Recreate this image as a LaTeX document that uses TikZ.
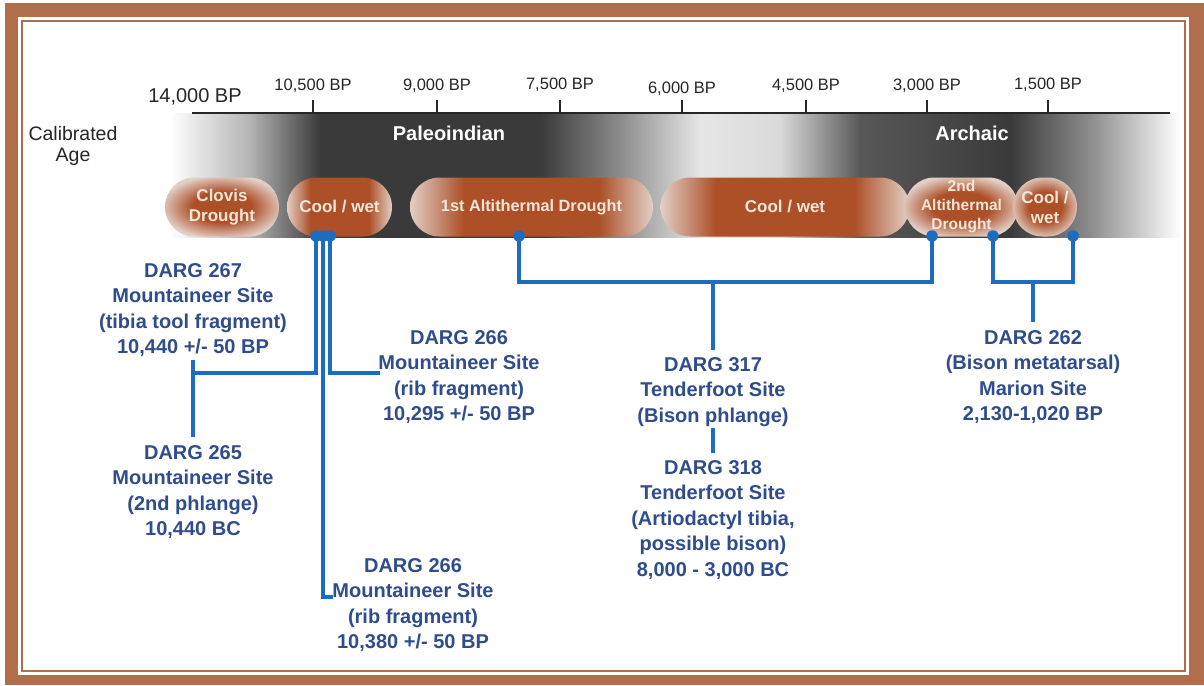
\documentclass[tikz,border=0pt]{standalone}
\usepackage{fontspec}
\setmainfont{Liberation Sans}
\usetikzlibrary{shapes.misc}
\definecolor{framebrown}{HTML}{B06E4C}
\definecolor{lineblue}{HTML}{1C6CC0}
\definecolor{txtblue}{HTML}{2F4D8C}
\definecolor{pillbrown}{HTML}{AD5028}
\definecolor{pillpale}{HTML}{E2CFC6}
\definecolor{pilltext}{HTML}{F4E7D8}
\definecolor{bandd}{HTML}{3A3A3A}
\definecolor{bandA}{HTML}{B4B4B4}
\definecolor{bandB}{HTML}{8C8C8C}
\definecolor{bandC}{HTML}{E6E6E6}
\definecolor{bandE}{HTML}{DADADA}
\definecolor{bandF}{HTML}{585858}
\pgfdeclarehorizontalshading{bandshade}{100bp}{color(0bp)=(white); color(25bp)=(white); color(28.96bp)=(bandA); color(32.43bp)=(bandd); color(43.32bp)=(bandd); color(47.28bp)=(bandB); color(51.24bp)=(bandC); color(55.2bp)=(bandE); color(59.16bp)=(bandF); color(66.58bp)=(bandd); color(70.54bp)=(bandB); color(75bp)=(white); color(100bp)=(white)}
\pgfdeclarehorizontalshading{pillshade}{100bp}{color(0bp)=(pillpale); color(25bp)=(pillpale); color(36bp)=(pillbrown); color(64bp)=(pillbrown); color(75bp)=(pillpale); color(100bp)=(pillpale)}
\pgfdeclareradialshading{pillrad}{\pgfpoint{0bp}{0bp}}{color(0bp)=(pillbrown); color(13bp)=(pillbrown); color(27bp)=(pillpale); color(50bp)=(pillpale)}
\begin{document}
\begin{tikzpicture}[x=1pt,y=-1pt,
  conn/.style={draw=lineblue, line width=3.4pt},
  dot/.style={circle, fill=lineblue, inner sep=0pt, minimum size=11.5pt},
  info/.style={text=txtblue, font=\fontsize{20}{25.5}\selectfont\bfseries, align=center, inner sep=0pt, anchor=north},
  axtick/.style={draw=black!85, line width=1.8pt},
  ticklabel/.style={font=\fontsize{16.5}{18}\selectfont, anchor=base, text=black!85, inner sep=0pt},
  pill/.style={rounded rectangle, minimum height=59pt, inner sep=0pt, text=pilltext, align=center, font=\fontsize{17}{20}\selectfont\bfseries},
  longpill/.style={pill, shade, shading=pillshade},
  shortpill/.style={pill, shade, shading=pillrad},
  eralabel/.style={text=white, font=\fontsize{20}{22}\selectfont\bfseries, anchor=base, inner sep=0pt}
]
\useasboundingbox (0,0) rectangle (1204,685);
% frame
\fill[white] (0,0) rectangle (1204,685);
\fill[framebrown] (5,3) rectangle (1204,685);
\fill[white] (18,17) rectangle (1189,675);
\draw[framebrown, line width=2.5pt] (22,21) rectangle (1185,671);

% band
\shade[shading=bandshade] (170,113) rectangle (1180,237);

% axis
\coordinate (axL) at (192,113);
\coordinate (axR) at (1170,113);
\draw[axtick] (axL) -- (axR);
\foreach \x/\yl/\lab in {313/90/{10,500 BP}, 437/90/{9,000 BP}, 560/89/{7,500 BP}, 682/93/{6,000 BP}, 806/90/{4,500 BP}, 927/90/{3,000 BP}, 1048/89/{1,500 BP}}{
  \draw[axtick] (\x,113) -- (\x,100);
  \node[ticklabel] at (\x,\yl) {\lab};
}
\node[ticklabel, font=\fontsize{20}{22}\selectfont] (t14) at (195,102) {14,000 BP};
\node[text=black!85, font=\fontsize{19.5}{21}\selectfont, align=center, anchor=north, inner sep=0pt] (calage) at (73,126) {Calibrated\\Age};

% era labels
\node[eralabel] (paleo) at (449,140) {Paleoindian};
\node[eralabel] (archaic) at (972,140) {Archaic};

% pills
\node[shortpill, minimum width=114pt] (p1) at (222,207) {Clovis\\Drought};
\node[longpill, minimum width=105pt] (p2) at (339.5,207) {Cool / wet};
\node[longpill, minimum width=243pt, font=\fontsize{16.3}{18}\selectfont\bfseries] (p3) at (531.5,207) {1st Altithermal Drought};
\node[longpill, minimum width=249pt] (p4) at (785,207) {Cool / wet};
\node[shortpill, minimum width=103pt, font=\fontsize{15.5}{19}\selectfont\bfseries] (p5) at (961.5,207) {2nd\\Altithermal\\Drought};
\node[shortpill, minimum width=64pt] (p6) at (1045,207) {Cool /\\wet};

% dots
\node[dot] (a1) at (316,236) {};
\node[dot] (a2) at (323,236) {};
\node[dot] (a3) at (330,236) {};
\node[dot] (b1) at (519,236) {};
\node[dot] (b2) at (932,236) {};
\node[dot] (b3) at (993,236) {};
\node[dot] (b4) at (1073,236) {};

% text blocks
\node[info] (t267) at (193,263) {DARG 267\\Mountaineer Site\\(tibia tool fragment)\\10,440 +/- 50 BP};
\node[info] (t265) at (193,445) {DARG 265\\Mountaineer Site\\(2nd phlange)\\10,440 BC};
\node[info] (t266a) at (459,330) {DARG 266\\Mountaineer Site\\(rib fragment)\\10,295 +/- 50 BP};
\node[info] (t266b) at (413,558) {DARG 266\\Mountaineer Site\\(rib fragment)\\10,380 +/- 50 BP};
\node[info] (t317) at (713,357) {DARG 317\\Tenderfoot Site\\(Bison phlange)};
\node[info] (t318) at (713,460) {DARG 318\\Tenderfoot Site\\(Artiodactyl tibia,\\possible bison)\\8,000 - 3,000 BC};
\node[info] (t262) at (1033,330) {DARG 262\\(Bison metatarsal)\\Marion Site\\2,130-1,020 BP};

% connectors
\coordinate (j267) at (193,373);
\coordinate (c267) at (193,360);
\coordinate (c265) at (193,437);
\coordinate (e266a) at (380,373);
\coordinate (e266b) at (333,597);
\coordinate (j317) at (713,282);
\coordinate (c317) at (713,350);
\coordinate (c317b) at (713,428);
\coordinate (c318) at (713,453);
\coordinate (j262) at (1033,282);
\coordinate (c262) at (1033,322);

\draw[conn] (a1.center) |- (j267);
\draw[conn] (c267) -- (c265);
\draw[conn] (a2.center) |- (e266b);
\draw[conn] (a3.center) |- (e266a);
\draw[conn] (b1.center) |- (j317) -| (b2.center);
\draw[conn] (j317) -- (c317);
\draw[conn] (c317b) -- (c318);
\draw[conn] (b3.center) |- (j262) -| (b4.center);
\draw[conn] (j262) -- (c262);
\end{tikzpicture}
\end{document}
